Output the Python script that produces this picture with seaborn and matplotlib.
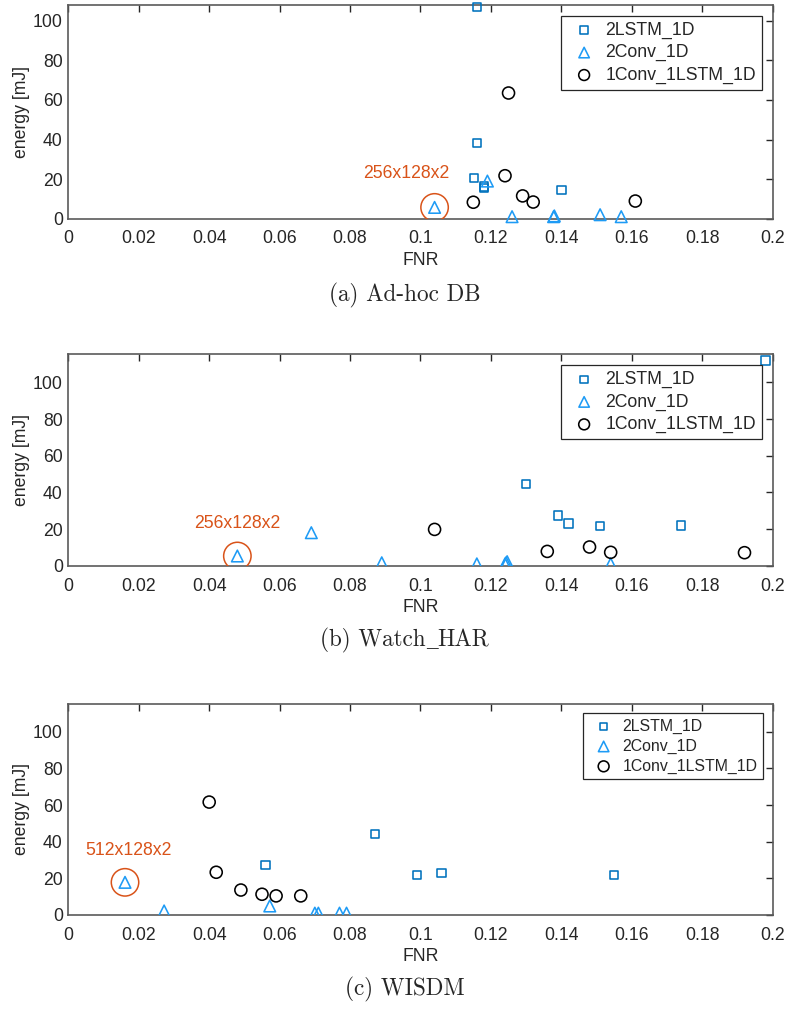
import numpy as np
import pandas as pd
import seaborn as sns
import matplotlib.pyplot as plt
from matplotlib.ticker import FixedLocator, FuncFormatter

# (a) Ad-hoc DB
a_lstm_fnr = [0.116, 0.116, 0.1152, 0.118, 0.118, 0.140]
a_lstm_en = [107.0, 38.4, 20.4, 16.2, 15.6, 14.6]
a_conv_fnr = [0.104, 0.119, 0.126, 0.1378, 0.138, 0.151, 0.157]
a_conv_en = [5.7, 19.0, 1.0, 1.0, 1.4, 2.0, 1.0]
a_mix_fnr = [0.125, 0.124, 0.115, 0.129, 0.132, 0.161]
a_mix_en = [63.5, 21.7, 8.3, 11.5, 8.4, 8.9]

# (b) Watch_HAR
b_lstm_fnr = [0.198, 0.130, 0.139, 0.142, 0.151, 0.174]
b_lstm_en = [112.0, 44.4, 27.3, 23.1, 21.8, 22.0]
b_conv_fnr = [0.048, 0.069, 0.089, 0.116, 0.124, 0.1243, 0.1246, 0.154]
b_conv_en = [5.3, 18.0, 1.6, 1.0, 1.0, 1.6, 2.2, 1.0]
b_mix_fnr = [0.104, 0.136, 0.148, 0.154, 0.192]
b_mix_en = [19.8, 7.8, 10.2, 7.3, 7.1]

# (c) WISDM
c_lstm_fnr = [0.056, 0.087, 0.099, 0.106, 0.155]
c_lstm_en = [27.3, 44.2, 21.8, 22.9, 21.7]
c_conv_fnr = [0.0161, 0.0272, 0.0572, 0.070, 0.071, 0.077, 0.079]
c_conv_en = [17.8, 2.2, 4.9, 1.0, 1.0, 1.0, 1.0]
c_mix_fnr = [0.040, 0.042, 0.049, 0.055, 0.059, 0.066]
c_mix_en = [61.6, 23.3, 13.6, 11.3, 10.4, 10.4]

models = ['2LSTM_1D', '2Conv_1D', '1Conv_1LSTM_1D']
captions = ['(a) Ad-hoc DB', '(b) Watch_HAR', '(c) WISDM']
best_labels = ['256x128x2', '256x128x2', '512x128x2']
best_fnr = [0.104, 0.048, 0.0161]
best_en = [5.7, 5.3, 17.8]
label_fnr = [0.0959, 0.048, 0.017]
label_en = [23.0, 23.0, 35.0]
y_max = [108, 115.3, 115.3]
x_ticks = [0, 0.02, 0.04, 0.06, 0.08, 0.1, 0.12, 0.14, 0.16, 0.18, 0.2]
y_ticks = [0, 20, 40, 60, 80, 100]

panels = [
    [(a_lstm_fnr, a_lstm_en), (a_conv_fnr, a_conv_en), (a_mix_fnr, a_mix_en)],
    [(b_lstm_fnr, b_lstm_en), (b_conv_fnr, b_conv_en), (b_mix_fnr, b_mix_en)],
    [(c_lstm_fnr, c_lstm_en), (c_conv_fnr, c_conv_en), (c_mix_fnr, c_mix_en)],
]

sns.set_style('white')
plt.rcParams['font.family'] = ['Liberation Sans', 'DejaVu Sans']

colors = ['#0072BD', '#1E9BF5', '#000000']
markers = ['s', '^', 'o']
sizes = [36, 70, 75]
orange = '#D95319'
axis_col = '#262626'
fs = 12.7

fig = plt.figure(figsize=(7.87, 10.10), dpi=100)
boxes = [
    [0.0868, 0.7835, 0.8950, 0.2116],
    [0.0868, 0.4399, 0.8950, 0.2093],
    [0.0868, 0.0941, 0.8950, 0.2092],
]
cap_base = [1 - 301.5 / 1010, 1 - 646.5 / 1010, 1 - 995.5 / 1010]
leg_size = [12.7, 12.7, 11.4]


def caption(text, xc, yb):
    # LaTeX-like caption; the underscore is taken from a serif font
    # because cmr10 has a dot accent at that code point
    renderer = fig.canvas.get_renderer()
    pieces = []
    chunks = text.split('_')
    for k, chunk in enumerate(chunks):
        pieces.append(fig.text(0, yb, chunk, fontsize=16.7, family='cmr10',
                               va='baseline', ha='left'))
        if k < len(chunks) - 1:
            pieces.append(fig.text(0, yb, '_', fontsize=16.7,
                                   family='Liberation Serif',
                                   va='baseline', ha='left'))
    widths = [p.get_window_extent(renderer).width / fig.bbox.width for p in pieces]
    x = xc - sum(widths) / 2
    for p, w in zip(pieces, widths):
        p.set_x(x)
        x += w


for i in range(3):
    ax = fig.add_axes(boxes[i])
    for j in range(3):
        fnr, en = panels[i][j]
        df = pd.DataFrame({'FNR': fnr, 'energy': en})
        sns.scatterplot(data=df, x='FNR', y='energy', ax=ax, marker=markers[j],
                        s=sizes[j], color=colors[j], facecolor='none',
                        edgecolor=colors[j], linewidth=1.15, label=models[j],
                        clip_on=False if i == 0 else True, zorder=3)
    # highlight of the best configuration
    ax.scatter([best_fnr[i]], [best_en[i]], marker='o', s=390, facecolor='none',
               edgecolor=orange, linewidth=1.1, zorder=4)
    ax.text(label_fnr[i], label_en[i], best_labels[i], color=orange,
            fontsize=fs, ha='center', va='center')

    ax.set_xlim(0, 0.2)
    ax.set_ylim(0, y_max[i])
    ax.xaxis.set_major_locator(FixedLocator(x_ticks))
    ax.yaxis.set_major_locator(FixedLocator(y_ticks))
    ax.xaxis.set_major_formatter(FuncFormatter(lambda v, p: '%g' % round(v, 3)))
    ax.tick_params(direction='in', length=5, width=1, colors=axis_col,
                   labelsize=fs, top=True, right=True, labeltop=False,
                   labelright=False)
    ax.tick_params(axis='x', pad=8.5)
    ax.tick_params(axis='y', pad=4)
    for sp in ax.spines.values():
        sp.set_color('#5a5a5a')
        sp.set_linewidth(1.2)
    ax.set_xlabel('FNR', fontsize=fs, color=axis_col, labelpad=3)
    ax.set_ylabel('energy [mJ]', fontsize=fs, color=axis_col, labelpad=2)

    leg = ax.legend(loc='upper right', fontsize=leg_size[i], frameon=True,
                    fancybox=False, edgecolor='#262626', framealpha=1,
                    borderaxespad=0.6, handletextpad=0.25, borderpad=0.35,
                    labelspacing=0.3, markerscale=0.9, handlelength=1.9)
    leg.get_frame().set_linewidth(0.9)

    caption(captions[i], 0.5146, cap_base[i])

fig.savefig('out.png', dpi=100)
